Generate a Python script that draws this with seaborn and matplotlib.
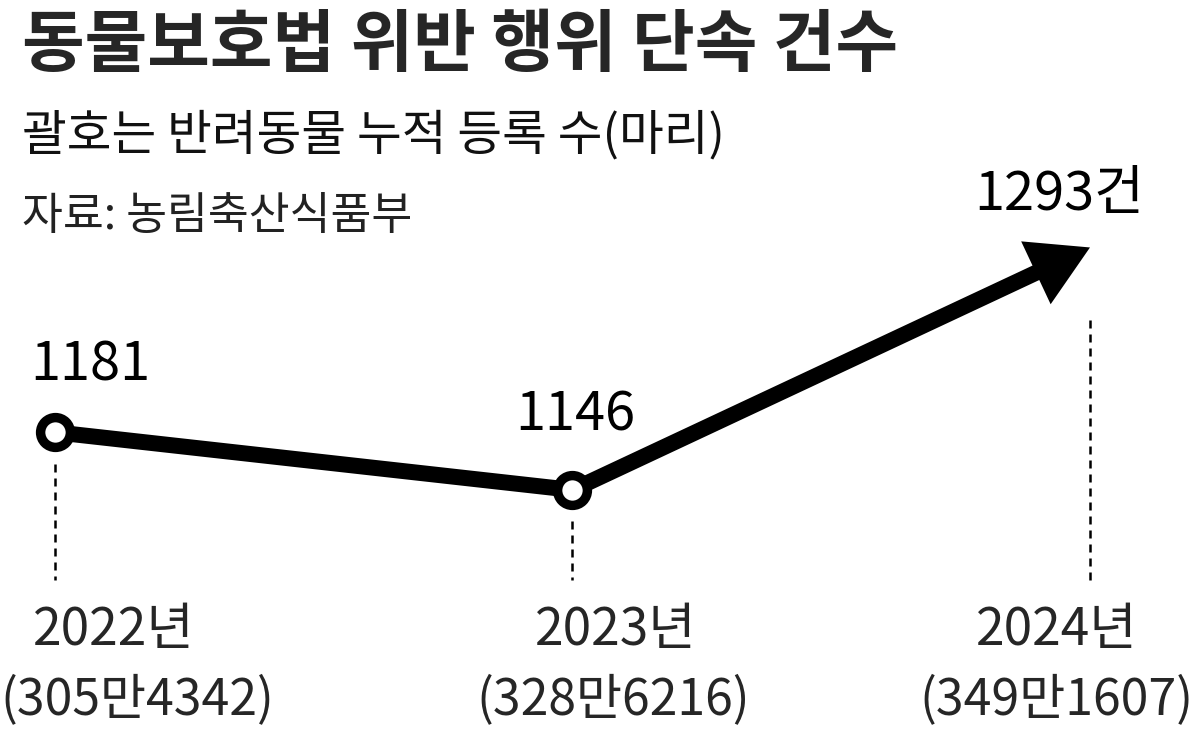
import matplotlib
matplotlib.use("Agg")
import matplotlib.pyplot as plt
import numpy as np
import seaborn as sns

# data
years = ["2022년", "2023년", "2024년"]
cases = [1181, 1146, 1293]
pets = ["(305만4342)", "(328만6216)", "(349만1607)"]

title = "동물보호법 위반 행위 단속 건수"
subtitle = "괄호는 반려동물 누적 등록 수(마리)"
source = "자료: 농림축산식품부"

sns.set_theme(style="white")
plt.rcParams["font.family"] = ["Noto Sans CJK KR", "DejaVu Sans"]

idx = np.arange(len(years))

fig = plt.figure(figsize=(12, 7.3), dpi=100)
ax = fig.add_axes([0, 0, 1, 1])
ax.set_xlim(-0.1063, 2.2126)
ax.set_ylim(1000.5, 1443)
ax.axis("off")

# 2022 -> 2023 segment
sns.lineplot(x=idx[:2], y=cases[:2], color="black", linewidth=11.5,
             ax=ax, zorder=2, solid_capstyle="butt")

# 2023 -> 2024 arrow
ax.annotate("", xy=(idx[2], cases[2]), xytext=(idx[1], cases[1]),
            arrowprops=dict(arrowstyle="simple,head_length=0.86,head_width=1.0,tail_width=0.23",
                            mutation_scale=50, fc="black", ec="none", lw=0,
                            shrinkA=0, shrinkB=0),
            zorder=3)

# markers
sns.scatterplot(x=idx[:2], y=cases[:2], s=460, color="white",
                edgecolor="black", linewidth=6.8, ax=ax, zorder=5, legend=False)

# dotted guides
gaps = [19, 19, 44]
ax.vlines(idx, [c - g for c, g in zip(cases, gaps)], 1091.5, colors="black",
          linewidth=1.8, linestyles=(0, (3.2, 2.4)), zorder=1)

# value labels
val_offsets = [(-18, 37), (2, 43), (-22, 27)]
val_ha = ["left", "center", "center"]
for i, c in enumerate(cases):
    txt = f"{c}" + ("건" if i == len(cases) - 1 else "")
    ax.annotate(txt, (idx[i], c), xytext=val_offsets[i], textcoords="offset points",
                ha=val_ha[i], va="baseline", fontsize=39, color="black")

# year / registration labels
year_dx = [42, 31, -24]
pet_dx = [59, 29, -24]
for i in idx:
    ax.annotate(years[i], (i, 0.1164), xycoords=("data", "axes fraction"),
                xytext=(year_dx[i], 0), textcoords="offset points",
                ha="center", va="baseline", fontsize=37)
    ax.annotate(pets[i], (i, 0.0205), xycoords=("data", "axes fraction"),
                xytext=(pet_dx[i], 0), textcoords="offset points",
                ha="center", va="baseline", fontsize=36)

fig.text(0.018, 0.910, title, fontsize=49, fontweight="bold", ha="left", va="baseline")
fig.text(0.018, 0.795, subtitle, fontsize=35, ha="left", va="baseline", color="#111111")
fig.text(0.018, 0.686, source, fontsize=32, ha="left", va="baseline", color="#222222")

fig.savefig("out.png", dpi=100, facecolor="white")
